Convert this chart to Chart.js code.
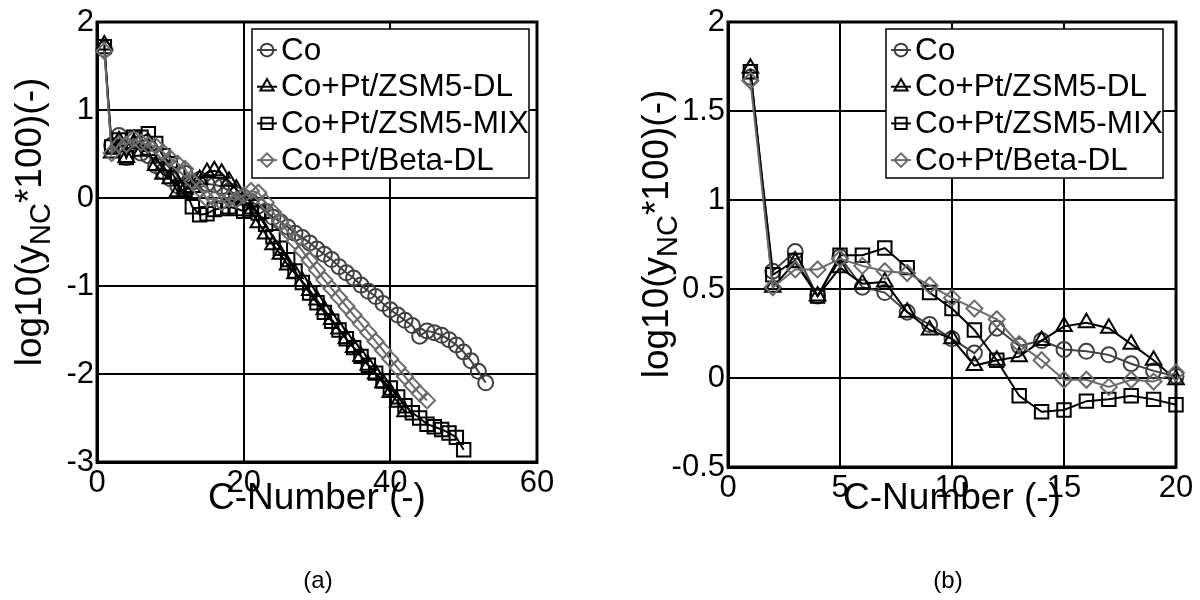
<!DOCTYPE html>
<html>
<head>
<meta charset="utf-8">
<script src="https://cdn.jsdelivr.net/npm/chart.js@4.4.1/dist/chart.umd.min.js"></script>
<style>
  body { margin: 0; background: #fff; width: 1200px; height: 600px; overflow: hidden; position: relative;
         font-family: "Liberation Sans", Arial, sans-serif; }
  .panel { position: absolute; top: 0; width: 600px; height: 600px; }
  .cap { position: absolute; top: 566px; width: 100px; text-align: center; font-size: 24px; color: #000; }
</style>
</head>
<body>
<div class="panel" style="left:0"><canvas id="chartA" width="600" height="600"></canvas></div>
<div class="panel" style="left:600px"><canvas id="chartB" width="600" height="600"></canvas></div>
<div class="cap" style="left:268px">(a)</div>
<div class="cap" style="left:898px">(b)</div>
<script>
const FONT = '"Liberation Sans", Arial, sans-serif';

// carbon numbers
const cNumbers = [1, 2, 3, 4, 5, 6, 7, 8, 9, 10, 11, 12, 13, 14, 15, 16, 17, 18, 19, 20,
  21, 22, 23, 24, 25, 26, 27, 28, 29, 30, 31, 32, 33, 34, 35, 36, 37, 38, 39, 40,
  41, 42, 43, 44, 45, 46, 47, 48, 49, 50, 51, 52, 53];

// log10(y_NC*100) for each catalyst
const coVals = [1.69, 0.60, 0.71, 0.46, 0.68, 0.51, 0.48, 0.37, 0.30, 0.22,
  0.14, 0.28, 0.18, 0.21, 0.16, 0.15, 0.13, 0.08, 0.04, 0.01,
  -0.04, -0.09, -0.15, -0.22, -0.27, -0.33, -0.40, -0.45, -0.51, -0.58,
  -0.64, -0.70, -0.78, -0.85, -0.91, -0.99, -1.06, -1.12, -1.20, -1.27,
  -1.33, -1.39, -1.45, -1.57, -1.51, -1.53, -1.56, -1.61, -1.67, -1.75,
  -1.85, -1.97, -2.10];
const dlVals = [1.74, 0.51, 0.65, 0.46, 0.62, 0.53, 0.54, 0.37, 0.27, 0.22,
  0.07, 0.10, 0.12, 0.21, 0.29, 0.31, 0.28, 0.19, 0.10, -0.01,
  -0.15, -0.28, -0.41, -0.53, -0.64, -0.76, -0.86, -0.95, -1.05, -1.16,
  -1.27, -1.38, -1.49, -1.60, -1.70, -1.80, -1.90, -2.00, -2.10, -2.21,
  -2.32, -2.43];
const mixVals = [1.72, 0.58, 0.66, 0.46, 0.69, 0.69, 0.73, 0.62, 0.48, 0.39,
  0.27, 0.10, -0.10, -0.19, -0.18, -0.13, -0.12, -0.10, -0.12, -0.15,
  -0.10, -0.17, -0.30, -0.44, -0.57, -0.70, -0.83, -0.96, -1.08, -1.19,
  -1.30, -1.40, -1.50, -1.60, -1.70, -1.80, -1.90, -1.99, -2.08, -2.16,
  -2.26, -2.36, -2.44, -2.50, -2.57, -2.60, -2.63, -2.67, -2.72, -2.86];
const betaVals = [1.67, 0.51, 0.61, 0.61, 0.67, 0.63, 0.60, 0.59, 0.52, 0.45,
  0.39, 0.33, 0.19, 0.10, -0.01, -0.01, -0.05, -0.01, -0.02, 0.03,
  0.08, 0.06, -0.05, -0.16, -0.27, -0.38, -0.49, -0.60, -0.71, -0.82,
  -0.93, -1.03, -1.13, -1.23, -1.33, -1.43, -1.53, -1.63, -1.73, -1.83,
  -1.93, -2.03, -2.13, -2.22, -2.30];

const seriesLabels = ['Co', 'Co+Pt/ZSM5-DL', 'Co+Pt/ZSM5-MIX', 'Co+Pt/Beta-DL'];

// tick labels
const xTicksA = [0, 20, 40, 60];
const yTicksA = [-3, -2, -1, 0, 1, 2];
const xTicksB = [0, 5, 10, 15, 20];
const yTicksB = [-0.5, 0, 0.5, 1, 1.5, 2];

const styles = [
  { color: '#404040', point: 'circle', r: 7.5, order: 3 },
  { color: '#000000', point: 'triangle', r: 9, order: 2 },
  { color: '#000000', point: 'rect', r: 9.5, order: 1 },
  { color: '#6b6b6b', point: 'rectRot', r: 8, order: 0 }
];

function makeSets(maxC) {
  return [coVals, dlVals, mixVals, betaVals].map((vals, i) => {
    const pts = [];
    vals.forEach((v, k) => { if (cNumbers[k] <= maxC) pts.push({ x: cNumbers[k], y: v }); });
    const s = styles[i];
    return {
      label: seriesLabels[i],
      data: pts,
      borderColor: s.color,
      borderWidth: 2,
      pointStyle: s.point,
      pointRadius: s.r,
      pointBorderWidth: 2,
      pointBorderColor: s.color,
      pointBackgroundColor: 'rgba(0,0,0,0)',
      tension: 0,
      order: s.order,
      clip: false
    };
  });
}

function marker(ctx, style, x, y, r) {
  ctx.beginPath();
  if (style === 'circle') ctx.arc(x, y, r, 0, Math.PI * 2);
  else if (style === 'triangle') {
    ctx.moveTo(x, y - r); ctx.lineTo(x + r * 0.866, y + r * 0.5); ctx.lineTo(x - r * 0.866, y + r * 0.5); ctx.closePath();
  } else if (style === 'rect') {
    const s = r * 0.7071; ctx.rect(x - s, y - s, 2 * s, 2 * s);
  } else {
    ctx.moveTo(x - r, y); ctx.lineTo(x, y - r); ctx.lineTo(x + r, y); ctx.lineTo(x, y + r); ctx.closePath();
  }
  ctx.stroke();
}

const framePlugin = {
  id: 'frame',
  beforeDatasetsDraw(chart) {
    const { ctx, chartArea: a } = chart;
    ctx.save();
    ctx.strokeStyle = '#000';
    ctx.lineWidth = 3;
    ctx.strokeRect(a.left, a.top, a.right - a.left, a.bottom - a.top);
    ctx.restore();
  },
  afterDatasetsDraw(chart, args, opts) {
    const { ctx, chartArea: a } = chart;
    ctx.save();
    // legend box
    const lg = opts.legend;
    ctx.fillStyle = '#fff';
    ctx.fillRect(lg.x, lg.y, lg.w, lg.h);
    ctx.strokeStyle = '#000';
    ctx.lineWidth = 1.5;
    ctx.strokeRect(lg.x, lg.y, lg.w, lg.h);
    ctx.font = lg.size + 'px ' + FONT;
    ctx.textBaseline = 'middle';
    ctx.textAlign = 'left';
    chart.data.datasets.forEach((ds, i) => {
      const y = lg.y + 21 + i * 36.7;
      ctx.strokeStyle = ds.borderColor;
      ctx.lineWidth = 2;
      ctx.beginPath(); ctx.moveTo(lg.x + 5, y); ctx.lineTo(lg.x + 25, y); ctx.stroke();
      marker(ctx, ds.pointStyle, lg.x + 15, y, ds.pointRadius * 0.85);
      ctx.fillStyle = '#000';
      ctx.fillText(ds.label, lg.x + 29, y + 1);
    });
    // x title
    ctx.fillStyle = '#000';
    ctx.textAlign = 'center';
    ctx.font = opts.titleSize + 'px ' + FONT;
    ctx.fillText('C-Number (-)', (a.left + a.right) / 2, opts.xTitleY);
    // y title with subscript
    ctx.translate(opts.yTitleX, opts.yTitleY);
    ctx.rotate(-Math.PI / 2);
    const big = opts.titleSize + 'px ' + FONT;
    const small = Math.round(opts.titleSize * 0.78) + 'px ' + FONT;
    const parts = [['log10(y', big, 0], ['NC', small, opts.titleSize * 0.3], ['*100)(-)', big, 0]];
    let total = 0;
    parts.forEach(p => { ctx.font = p[1]; total += ctx.measureText(p[0]).width; });
    let x = -total / 2;
    ctx.textAlign = 'left';
    parts.forEach(p => { ctx.font = p[1]; ctx.fillText(p[0], x, p[2]); x += ctx.measureText(p[0]).width; });
    ctx.restore();
  }
};

function axis(min, max, ticks, fit) {
  return {
    type: 'linear', min: min, max: max,
    afterBuildTicks: s => { s.ticks = ticks.map(v => ({ value: v })); },
    afterFit: fit,
    grid: { color: '#000', lineWidth: 2, drawTicks: false },
    border: { color: '#000', width: 3 },
    ticks: { color: '#000', font: { family: FONT, size: 31 }, padding: 3, autoSkip: false, maxRotation: 0,
             callback: v => String(v) }
  };
}

function makeChart(id, maxC, xr, yr, xt, yt, pad, yWidth, frameOpts) {
  return new Chart(document.getElementById(id), {
    type: 'line',
    data: { datasets: makeSets(maxC) },
    options: {
      responsive: false,
      animation: false,
      layout: { padding: pad },
      plugins: { legend: { display: false }, tooltip: { enabled: false }, frame: frameOpts },
      scales: {
        x: axis(xr[0], xr[1], xt, s => { s.height = 40; }),
        y: axis(yr[0], yr[1], yt, s => { s.width = yWidth; })
      }
    },
    plugins: [framePlugin]
  });
}

makeChart('chartA', 60, [0, 60], [-3, 2], xTicksA, yTicksA,
  { left: 0, right: 63, top: 22, bottom: 98 }, 97,
  { legend: { x: 252, y: 29, w: 277, h: 149, size: 31.5 }, titleSize: 37, xTitleY: 499, yTitleX: 31, yTitleY: 222 });

makeChart('chartB', 20, [0, 20], [-0.5, 2], xTicksB, yTicksB,
  { left: 0, right: 24, top: 22, bottom: 93 }, 128,
  { legend: { x: 286, y: 29, w: 277, h: 149, size: 31.5 }, titleSize: 37, xTitleY: 499, yTitleX: 58, yTitleY: 234 });
</script>
</body>
</html>
